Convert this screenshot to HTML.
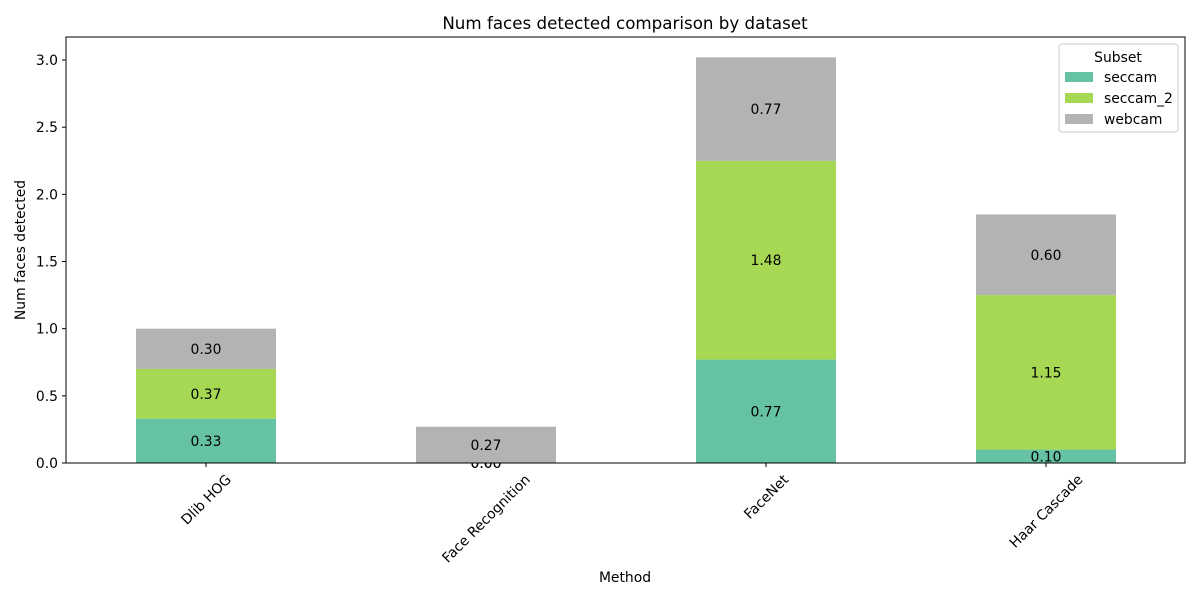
<!DOCTYPE html>
<html><head><meta charset="utf-8"><style>
body{margin:0;background:#fff;}
svg{display:block;font-family:"DejaVu Sans","Liberation Sans",sans-serif;}
</style></head><body>
<svg id="chart" width="1200" height="600" viewBox="0 0 1200 600">
<rect width="1200" height="600" fill="#fff"/>
<text x="625" y="29" font-size="16.7" text-anchor="middle">Num faces detected comparison by dataset</text>
<g id="bars"></g>
<g id="yaxis"></g>
<g id="xaxis"></g>
<rect x="66" y="37" width="1119" height="426" fill="none" stroke="#000" stroke-width="1"/>
<text x="625" y="582" font-size="13.9" text-anchor="middle">Method</text>
<text transform="translate(25,250) rotate(-90)" font-size="13.9" text-anchor="middle">Num faces detected</text>
<g id="legend">
<rect x="1059" y="44" width="119" height="88" rx="3" fill="#fff" stroke="#ccc"/>
<text x="1118" y="62" font-size="13.9" text-anchor="middle">Subset</text>
</g>
</svg>
<script>
const categories=["Dlib HOG","Face Recognition","FaceNet","Haar Cascade"];
const seriesNames=["seccam","seccam_2","webcam"];
const seccam=[0.33,0.00,0.77,0.10];
const seccam2=[0.37,0.00,1.48,1.15];
const webcam=[0.30,0.27,0.77,0.60];
const yTicks=[0,0.5,1.0,1.5,2.0,2.5,3.0];
const colors=["#66c2a5","#a6d854","#b3b3b3"];
const NS="http://www.w3.org/2000/svg";
const y0=463,pxPerUnit=134.33;
function yScale(v){return y0-v*pxPerUnit;}
function xScale(i){return 206+i*280;}
const bw=140;
const FS=13.9;
function mk(tag,attrs,parent){const e=document.createElementNS(NS,tag);for(const k in attrs)e.setAttribute(k,attrs[k]);parent.appendChild(e);return e;}
const bars=document.getElementById('bars');
const series=[seccam,seccam2,webcam];
categories.forEach((c,i)=>{
  let base=0;
  series.forEach((s,j)=>{
    const v=s[i];
    const r=mk('rect',{x:xScale(i)-bw/2,y:yScale(base+v),width:bw,height:v*pxPerUnit,fill:colors[j]},bars);
    
    
    const t=mk('text',{x:xScale(i),y:yScale(base+v/2)+5,'font-size':FS,'text-anchor':'middle'},bars);
    t.textContent=v.toFixed(2);
    
    
    base+=v;
  });
});
const ya=document.getElementById('yaxis');
yTicks.forEach(v=>{
  const y=yScale(v);
  mk('line',{x1:62,x2:66,y1:y,y2:y,stroke:'#000'},ya);
  const t=mk('text',{x:58,y:y+5,'font-size':FS,'text-anchor':'end'},ya);
  t.textContent=v.toFixed(1);
  
  
});
const xa=document.getElementById('xaxis');
categories.forEach((c,i)=>{
  const x=xScale(i);
  mk('line',{x1:x,x2:x,y1:463,y2:467,stroke:'#000'},xa);
  const t=mk('text',{x:0,y:0,'font-size':FS,'text-anchor':'middle',dy:'0.35em'},xa);
  t.textContent=c;
  
  
  const L=t.getComputedTextLength();
  const cy=472+(L*0.7071+FS*0.7071)/2;
  t.setAttribute('transform',`translate(${x},${cy}) rotate(-45)`);
});
const lg=document.getElementById('legend');
seriesNames.forEach((n,j)=>{
  const y=77+j*21;
  const r=mk('rect',{x:1065,y:y-5,width:28,height:10,fill:colors[j]},lg);
  
  
  const t=mk('text',{x:1104,y:y+5,'font-size':FS},lg);
  t.textContent=n;
  
  
});
</script>
</body></html>
